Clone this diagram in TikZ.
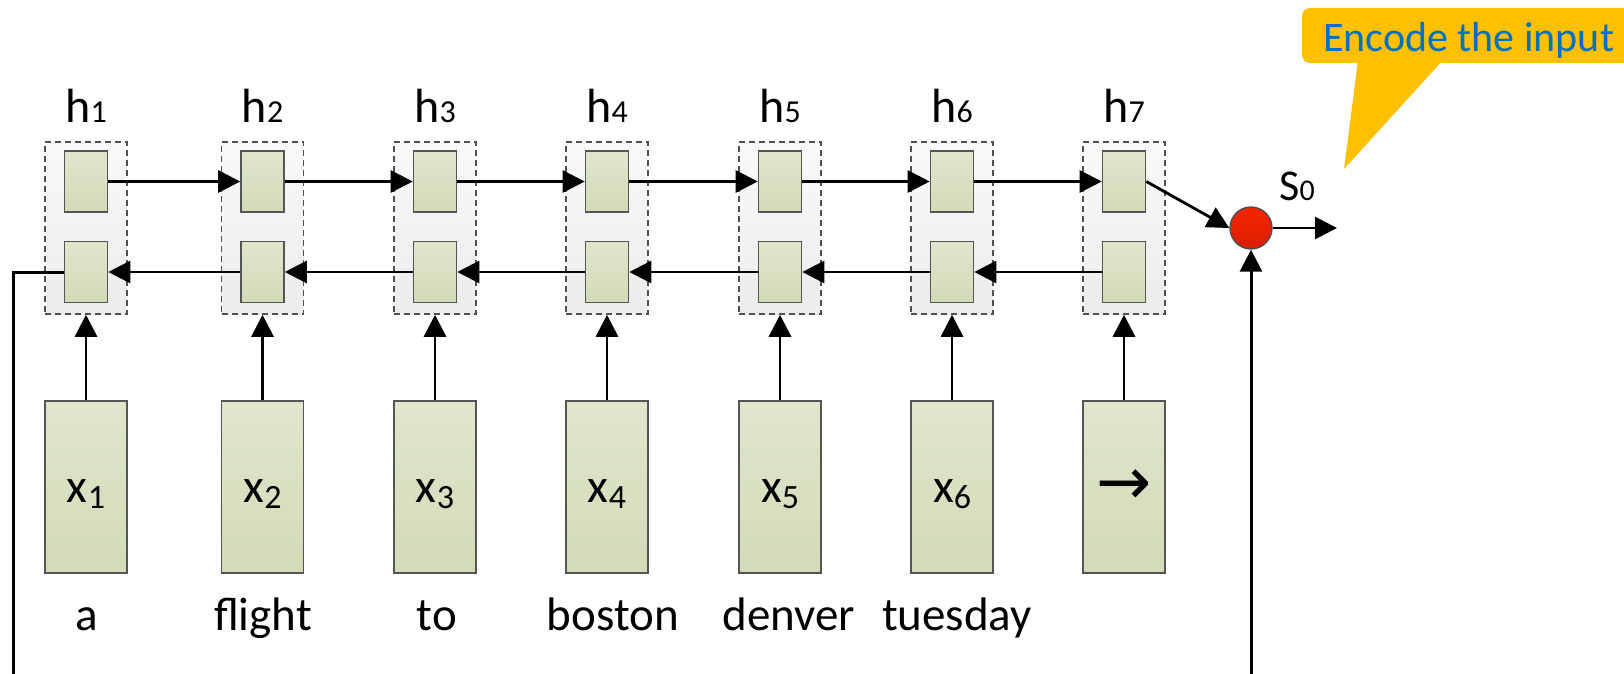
\documentclass[tikz,border=0pt]{standalone}
\usepackage{fontspec}
\setmainfont{Carlito}
\newfontfamily\symfont{DejaVu Sans}
\usetikzlibrary{arrows.meta}
\definecolor{cellTop}{HTML}{DFE6CD}
\definecolor{cellBot}{HTML}{D2DBB7}
\definecolor{cellLine}{HTML}{555555}
\definecolor{grpTop}{HTML}{F9F9F9}
\definecolor{grpBot}{HTML}{ECECEC}
\definecolor{grpLine}{HTML}{505050}
\definecolor{nodeRed}{HTML}{F52600}
\definecolor{nodeRedDark}{HTML}{D81E00}
\definecolor{calloutFill}{HTML}{FFC000}
\definecolor{calloutText}{HTML}{0070C0}
\newcommand{\hlab}[1]{{\fontsize{48}{54}\selectfont h\fontsize{32}{36}\selectfont #1}}
\newcommand{\xlab}[1]{{\fontsize{48}{52}\selectfont x\raisebox{-6pt}{\fontsize{34}{36}\selectfont #1}}}
\begin{document}
\begin{tikzpicture}[x=1pt,y=-1pt,
  cell/.style={draw=cellLine, line width=1.6pt, top color=cellTop, bottom color=cellBot, minimum width=43pt, minimum height=61pt, inner sep=0pt},
  group/.style={draw=grpLine, line width=1.5pt, dash pattern=on 6pt off 4pt, top color=grpTop, bottom color=grpBot, minimum width=82pt, minimum height=172pt, inner sep=0pt},
  inbox/.style={draw=cellLine, line width=1.6pt, top color=cellTop, bottom color=cellBot, minimum width=82pt, minimum height=172pt, inner sep=0pt},
  arr/.style={line width=2.8pt, -{Triangle[length=22pt,width=22pt]}},
  word/.style={anchor=base, inner sep=0pt, font=\fontsize{47}{52}\selectfont},
  lab/.style={anchor=base, inner sep=0pt},
]
\clip (0,0) rectangle (1624,674);
\fill[white] (0,0) rectangle (1624,674);

% columns
\foreach \c/\i in {86/1, 262.5/2, 435/3, 607/4, 780/5, 952/6, 1124/7} {
  \node[group] (d\i) at (\c,228) {};
  \node[cell] (u\i) at (\c,181.5) {};
  \node[cell] (l\i) at (\c,272) {};
  \node[inbox] (x\i) at (\c,487) {};
  \node[lab] (hl\i) at (\c,123) {\hlab{\i}};
  \ifnum\i<7
    \node[lab] (xt\i) at (\c,502) {\xlab{\i}};
  \fi
}
\node[inner sep=0pt] (xt7) at (1124,487) {\symfont\fontsize{66}{70}\selectfont →};

% words
\foreach \c/\i/\w in {87/1/a, 263/2/flight, 437/3/to, 613/4/boston, 789/5/denver, 957/6/tuesday} {
  \node[word] (w\i) at (\c,630) {\w};
}

% recurrent connections
\foreach \i [evaluate=\i as \j using int(\i+1)] in {1,...,6} {
  \draw[arr] (u\i.east) -- (u\j.west);
  \draw[arr] (l\j.west) -- (l\i.east);
}
% input connections
\foreach \i in {1,...,7} {
  \draw[arr] (x\i.north) -- (d\i.south);
}

% combination node
\node[circle, draw=grpLine, line width=1.4pt, top color=nodeRed, bottom color=nodeRedDark, minimum size=42pt, inner sep=0pt] (c) at (1251,228) {};
\draw[arr] (u7.east) -- (c.west);
\coordinate (out) at (1337,228);
\draw[arr] (c.east) -- (out);
\node[lab] (s0) at (1297,200) {{\fontsize{44}{48}\selectfont S\fontsize{30}{32}\selectfont 0}};

% loop from first backward cell
\coordinate (lb) at (13,700);
\draw[line width=3pt, -{Triangle[length=22pt,width=22pt]}] (l1.west) -| (lb) -| (c.south);

% callout
\fill[calloutFill, rounded corners=8pt] (1302,8) rectangle (1660,63);
\fill[calloutFill] (1358,60) -- (1443,60) -- (1344,169) -- cycle;
\node[anchor=base west, inner sep=0pt, text=calloutText, font=\fontsize{42}{48}\selectfont] (enc) at (1323,52) {Encode the input};
\end{tikzpicture}
\end{document}
